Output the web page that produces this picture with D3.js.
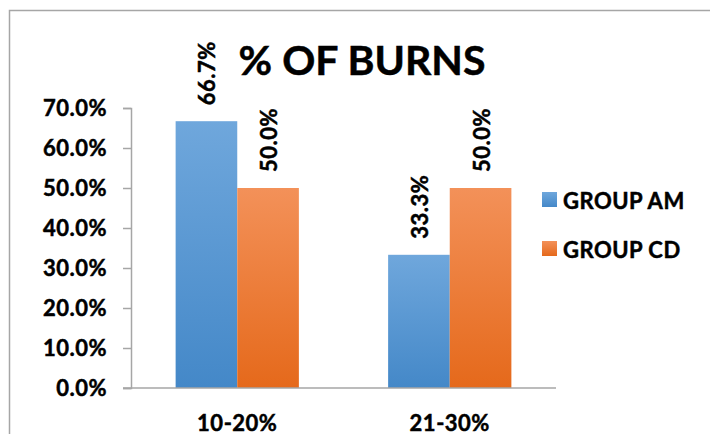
<!DOCTYPE html>
<html>
<head>
<meta charset="utf-8">
<script src="https://cdn.jsdelivr.net/npm/d3@7"></script>
<style>
  html, body { margin: 0; padding: 0; background: #fff; }
  svg { display: block; }
  text { font-family: Lato, "Open Sans", sans-serif; font-weight: bold; fill: #000;
         stroke: #000; stroke-width: 0.5px; letter-spacing: 0.5px; }
</style>
</head>
<body>
<svg id="chart" width="710" height="434"></svg>
<script>
// Burn-size bands and the share of each group that falls in them
const categories = ["10-20%", "21-30%"];
const seriesNames = ["GROUP AM", "GROUP CD"];
const groupAM = [66.7, 33.3];
const groupCD = [50.0, 50.0];
const yTicks = [0, 10, 20, 30, 40, 50, 60, 70];
const title = "% OF BURNS";

const series = [
  { name: seriesNames[0], values: groupAM, top: "#6fa7dc", bottom: "#4488c8" },
  { name: seriesNames[1], values: groupCD, top: "#f39159", bottom: "#e5691b" }
];

const svg = d3.select("#chart");
const plot = { left: 131, right: 556, top: 108, bottom: 388 };

// outer frame (only top and left edges fall inside the view)
svg.append("rect")
  .attr("x", 9.5).attr("y", 10.5)
  .attr("width", 720).attr("height", 440)
  .attr("fill", "none").attr("stroke", "#a6a6a6").attr("stroke-width", 1.5);

const defs = svg.append("defs");
series.forEach((s, i) => {
  const g = defs.append("linearGradient")
    .attr("id", "grad" + i)
    .attr("x1", 0).attr("y1", 0).attr("x2", 0).attr("y2", 1);
  g.append("stop").attr("offset", "0%").attr("stop-color", s.top);
  g.append("stop").attr("offset", "100%").attr("stop-color", s.bottom);
});

const x0 = d3.scaleBand().domain(categories)
  .range([plot.left, plot.right]).paddingInner(0.42).paddingOuter(0.21);
const x1 = d3.scaleBand().domain(seriesNames)
  .range([0, x0.bandwidth()]).padding(0);
const y = d3.scaleLinear().domain([0, 70]).range([plot.bottom, plot.top]);

// y axis
const yAxis = d3.axisLeft(y).tickValues(yTicks)
  .tickFormat(d => d.toFixed(1) + "%").tickSize(8).tickPadding(16);
const ya = svg.append("g").attr("transform", `translate(${plot.left},0)`).call(yAxis);
ya.attr("font-family", null).attr("font-size", null);
ya.selectAll("path").attr("stroke", "#a6a6a6").attr("stroke-width", 1.5);
ya.selectAll("line").attr("stroke", "#a6a6a6").attr("stroke-width", 1.5);
ya.selectAll("text").style("font-size", "22px").attr("dy", "0.36em").attr("fill", "#000");

// bars
const groups = svg.append("g").selectAll("g")
  .data(categories).join("g")
  .attr("transform", c => `translate(${x0(c)},0)`);

series.forEach((s, si) => {
  groups.append("rect")
    .attr("x", x1(s.name))
    .attr("width", x1.bandwidth())
    .attr("y", (c, ci) => y(s.values[ci]))
    .attr("height", (c, ci) => y(0) - y(s.values[ci]))
    .attr("fill", `url(#grad${si})`);

  groups.append("text")
    .attr("transform", (c, ci) =>
      `translate(${x1(s.name) + x1.bandwidth() / 2 + 9},${y(s.values[ci]) - 16}) rotate(-90)`)
    .attr("text-anchor", "start")
    .style("font-size", "22px")
    .text((c, ci) => s.values[ci].toFixed(1) + "%");
});

// x axis baseline (extends a little past the y axis)
svg.append("line")
  .attr("x1", plot.left - 8).attr("x2", plot.right)
  .attr("y1", y(0)).attr("y2", y(0))
  .attr("stroke", "#a6a6a6").attr("stroke-width", 1.5);

svg.append("g").selectAll("text")
  .data(categories).join("text")
  .attr("x", c => x0(c) + x0.bandwidth() / 2)
  .attr("y", 431)
  .attr("text-anchor", "middle")
  .style("font-size", "22px")
  .text(c => c);

// title
svg.append("text")
  .attr("x", 362).attr("y", 75)
  .attr("text-anchor", "middle")
  .style("font-size", "41px")
  .style("letter-spacing", "0px")
  .text(title);

// legend
const leg = svg.append("g").selectAll("g")
  .data(series).join("g")
  .attr("transform", (s, i) => `translate(542,${192 + i * 49})`);
leg.append("rect").attr("width", 15).attr("height", 15)
  .attr("fill", (s, i) => `url(#grad${i})`);
leg.append("text").attr("x", 21).attr("y", 16.5)
  .style("font-size", "22px").text(s => s.name);
</script>
</body>
</html>
